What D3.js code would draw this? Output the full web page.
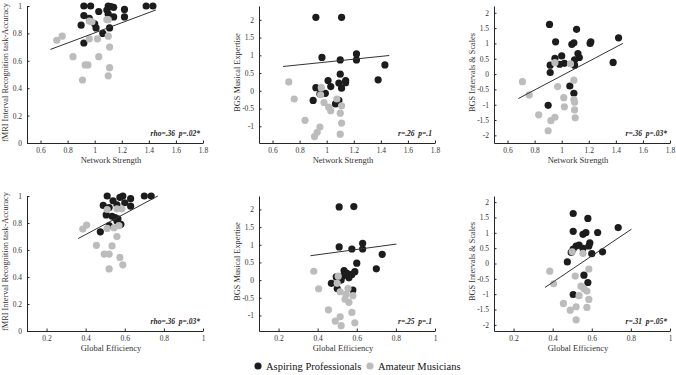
<!DOCTYPE html>
<html>
<head>
<meta charset="utf-8">
<script src="https://cdn.jsdelivr.net/npm/d3@7"></script>
<style>
  body { margin: 0; background: #fff; }
  svg, svg text { font-family: "Liberation Serif", "Times New Roman", Times, serif; }
</style>
</head>
<body>
<div id="chart"></div>
<script>
// ---- data: [x, y] per participant ----
// top row, x = network strength
var netAccPro = [[0.92,1.0],[0.97,1.0],[1.10,1.0],[1.12,0.995],[1.14,0.99],[1.38,1.0],[1.43,1.0],[0.92,0.93],[0.96,0.91],[1.03,0.96],[1.10,0.94],[1.14,0.92],[1.22,0.975],[1.22,0.92],[0.90,0.86],[1.00,0.87],[1.01,0.84],[1.11,0.84],[1.06,0.80],[0.92,0.73],[1.09,0.97]];
var netAccAma = [[0.72,0.75],[0.76,0.78],[0.96,0.89],[0.98,0.885],[1.09,0.90],[1.10,0.90],[0.96,0.76],[1.02,0.76],[1.10,0.78],[1.11,0.70],[0.84,0.63],[1.03,0.63],[0.93,0.57],[0.95,0.57],[1.11,0.55],[0.91,0.46],[1.10,0.49]];
var netAccFit = [[0.673,0.683],[1.452,0.971]];

var netExpPro = [[0.92,2.07],[1.11,2.07],[0.965,0.94],[1.10,0.87],[1.22,1.04],[1.22,0.87],[1.10,0.47],[1.01,0.29],[1.09,0.22],[1.14,0.29],[1.14,0.23],[1.38,0.31],[1.43,0.73],[1.03,0.12],[1.11,0.075],[0.92,0.09],[0.95,-0.09],[0.99,-0.07],[0.90,-0.27],[1.065,-0.37],[1.09,-0.27]];
var netExpAma = [[0.72,0.25],[0.76,-0.23],[0.96,0.09],[0.955,-0.11],[0.98,-0.33],[1.015,-0.46],[1.03,-0.56],[1.075,-0.23],[1.11,-0.42],[1.10,-0.63],[1.11,-0.91],[0.84,-0.83],[0.95,-1.02],[0.93,-1.17],[0.91,-1.29],[1.10,-1.22]];
var netExpFit = [[0.678,0.685],[1.462,0.995]];

var netIntPro = [[0.91,1.62],[1.11,1.46],[0.955,1.05],[1.075,0.97],[1.09,1.02],[1.21,1.0],[1.215,1.05],[1.42,1.18],[1.12,0.67],[1.13,0.54],[0.95,0.51],[1.00,0.59],[1.095,0.46],[1.02,0.35],[0.985,0.32],[0.915,0.29],[1.095,0.29],[1.38,0.38],[0.915,0.05],[1.06,-0.39],[1.09,-0.63],[0.90,-1.02]];
var netIntAma = [[0.71,-0.25],[0.76,-0.68],[0.95,0.37],[1.065,0.33],[0.97,-0.41],[1.09,-0.2],[1.015,-0.77],[1.02,-1.07],[1.09,-0.83],[1.095,-0.92],[1.095,-1.17],[1.10,-1.43],[0.83,-1.33],[0.95,-1.41],[0.92,-1.52],[0.90,-1.85]];
var netIntFit = [[0.68,-0.80],[1.452,1.0]];

// bottom row, x = global efficiency
var effAccPro = [[0.51,1.0],[0.54,0.965],[0.575,0.99],[0.59,1.0],[0.60,0.95],[0.63,0.98],[0.70,1.0],[0.735,1.0],[0.49,0.93],[0.52,0.915],[0.56,0.935],[0.63,0.925],[0.505,0.86],[0.535,0.85],[0.55,0.84],[0.565,0.83],[0.56,0.815],[0.58,0.79],[0.52,0.78],[0.475,0.735]];
var effAccAma = [[0.385,0.755],[0.405,0.785],[0.51,0.90],[0.56,0.905],[0.585,0.905],[0.51,0.76],[0.545,0.765],[0.57,0.78],[0.56,0.70],[0.455,0.635],[0.535,0.63],[0.495,0.57],[0.52,0.57],[0.575,0.545],[0.59,0.49],[0.52,0.46]];
var effAccFit = [[0.362,0.685],[0.769,1.0]];

var effExpPro = [[0.51,2.07],[0.585,2.08],[0.51,0.94],[0.575,0.88],[0.63,1.04],[0.63,0.88],[0.60,0.48],[0.73,0.73],[0.70,0.32],[0.535,0.27],[0.55,0.19],[0.59,0.24],[0.575,0.16],[0.53,0.12],[0.495,0.09],[0.56,0.065],[0.52,0.0],[0.47,-0.09],[0.50,-0.24],[0.58,-0.28]];
var effExpAma = [[0.38,0.25],[0.405,-0.245],[0.505,0.11],[0.50,-0.09],[0.515,-0.33],[0.555,-0.24],[0.545,-0.40],[0.58,-0.44],[0.54,-0.54],[0.56,-0.63],[0.455,-0.84],[0.575,-0.915],[0.515,-1.04],[0.49,-1.16],[0.59,-1.21],[0.52,-1.29]];
var effExpFit = [[0.363,0.69],[0.803,1.02]];

var effIntPro = [[0.505,1.63],[0.58,1.47],[0.505,1.05],[0.555,0.95],[0.57,1.01],[0.63,1.01],[0.735,1.17],[0.59,0.67],[0.585,0.57],[0.52,0.57],[0.535,0.60],[0.555,0.49],[0.505,0.47],[0.495,0.36],[0.60,0.32],[0.655,0.38],[0.475,0.05],[0.56,-0.38],[0.58,-0.62],[0.505,-1.01]];
var effIntAma = [[0.385,-0.25],[0.405,-0.66],[0.50,0.38],[0.555,0.33],[0.515,-0.41],[0.585,-0.18],[0.545,-0.74],[0.56,-0.82],[0.575,-0.90],[0.585,-1.17],[0.535,-1.05],[0.455,-1.30],[0.52,-1.41],[0.49,-1.52],[0.575,-1.43],[0.52,-1.84]];
var effIntFit = [[0.361,-0.78],[0.803,1.12]];

// axis ticks / labels
var netTicks = [0.6, 0.8, 1, 1.2, 1.4, 1.6, 1.8];
var effTicks = [0.2, 0.4, 0.6, 0.8, 1];
var accTicks = [0, 0.2, 0.4, 0.6, 0.8, 1];
var expTicks = [-1, -0.5, 0, 0.5, 1, 1.5, 2];
var intTicks = [-2, -1.5, -1, -0.5, 0, 0.5, 1, 1.5, 2];
var xLabels = ["Network Strength", "Global Efficiency"];
var yLabels = ["fMRI Interval Recognition task-Accuracy", "BGS Musical Expertise", "BGS Intervals & Scales"];
var stats = ["rho=.36  p=.02*", "r=.26  p=.1", "r=.36  p=.03*", "rho=.36  p=.03*", "r=.25  p=.1", "r=.31  p=.05*"];
var groups = ["Aspiring Professionals", "Amateur Musicians"];
var groupColors = ["#1c1c1c", "#bcbcbc"];

var serif = "Liberation Serif, Times New Roman, serif";
var W = 676, H = 375;
var svg = d3.select("#chart").append("svg")
    .attr("width", W)
    .attr("height", H)
    .attr("font-family", serif);

var colLeft = [27, 259, 494],
    panelW = 176;
var rows = [{top: 6, h: 137}, {top: 196, h: 135}];

var panels = [
  {row: 0, col: 0, xd: [0.5, 1.8], yd: [0, 1], xt: netTicks, yt: accTicks, pro: netAccPro, ama: netAccAma, fit: netAccFit},
  {row: 0, col: 1, xd: [0.5, 1.8], yd: [-1.47, 2.39], xt: netTicks, yt: expTicks, pro: netExpPro, ama: netExpAma, fit: netExpFit},
  {row: 0, col: 2, xd: [0.5, 1.8], yd: [-2.25, 2.22], xt: netTicks, yt: intTicks, pro: netIntPro, ama: netIntAma, fit: netIntFit},
  {row: 1, col: 0, xd: [0.1, 1], yd: [0, 1], xt: effTicks, yt: accTicks, pro: effAccPro, ama: effAccAma, fit: effAccFit},
  {row: 1, col: 1, xd: [0.1, 1], yd: [-1.44, 2.38], xt: effTicks, yt: expTicks, pro: effExpPro, ama: effExpAma, fit: effExpFit},
  {row: 1, col: 2, xd: [0.1, 1], yd: [-2.2, 2.2], xt: effTicks, yt: intTicks, pro: effIntPro, ama: effIntAma, fit: effIntFit}
];

var fmt = function(d) { return d3.format("~g")(d).replace("\u2212", "-"); };

panels.forEach(function(p, i) {
  var r = rows[p.row];
  var g = svg.append("g")
      .attr("transform", "translate(" + colLeft[p.col] + "," + r.top + ")");

  var x = d3.scaleLinear().domain(p.xd).range([0, panelW]);
  var y = d3.scaleLinear().domain(p.yd).range([r.h, 0]);

  var xAxis = d3.axisBottom(x).tickValues(p.xt).tickSizeInner(-2.5).tickSizeOuter(0)
      .tickPadding(5).tickFormat(fmt);
  var yAxis = d3.axisLeft(y).tickValues(p.yt).tickSizeInner(-2.5).tickSizeOuter(0)
      .tickPadding(5).tickFormat(fmt);

  var gx = g.append("g")
      .attr("transform", "translate(0," + r.h + ")")
      .call(xAxis);
  var gy = g.append("g").call(yAxis);

  [gx, gy].forEach(function(a) {
    a.attr("font-family", serif).attr("font-size", 7.5);
    a.selectAll("path.domain").attr("stroke", "#262626").attr("stroke-width", 1);
    a.selectAll(".tick line").attr("stroke", "#262626");
    a.selectAll(".tick text").attr("fill", "#333");
  });

  // points: professionals first, amateurs on top
  g.selectAll("circle.pro").data(p.pro).enter().append("circle")
      .attr("class", "pro")
      .attr("cx", function(d) { return x(d[0]); })
      .attr("cy", function(d) { return y(d[1]); })
      .attr("r", 3.6)
      .attr("fill", groupColors[0]);
  g.selectAll("circle.ama").data(p.ama).enter().append("circle")
      .attr("class", "ama")
      .attr("cx", function(d) { return x(d[0]); })
      .attr("cy", function(d) { return y(d[1]); })
      .attr("r", 3.6)
      .attr("fill", groupColors[1]);

  // regression line
  g.append("path")
      .datum(p.fit)
      .attr("fill", "none")
      .attr("stroke", "#333")
      .attr("stroke-width", 1)
      .attr("d", d3.line().x(function(d) { return x(d[0]); }).y(function(d) { return y(d[1]); }));

  // stats annotation
  g.append("text")
      .attr("x", panelW - 3)
      .attr("y", r.h - 7)
      .attr("text-anchor", "end")
      .attr("font-size", 7.5)
      .attr("font-weight", "bold")
      .attr("font-style", "italic")
      .style("white-space", "pre")
      .attr("fill", "#222")
      .text(stats[i]);

  // axis labels
  g.append("text")
      .attr("x", panelW / 2 - 4)
      .attr("y", r.h + 20)
      .attr("text-anchor", "middle")
      .attr("font-size", 8.5)
      .attr("fill", "#333")
      .text(xLabels[p.row]);
  g.append("text")
      .attr("transform", "translate(-19," + (r.h / 2 - 2) + ") rotate(-90)")
      .attr("text-anchor", "middle")
      .attr("font-size", 8.3)
      .attr("fill", "#333")
      .text(yLabels[p.col]);
});

// legend
var legend = svg.append("g").attr("transform", "translate(258,366)");
var lx = [0, 112];
groups.forEach(function(name, i) {
  legend.append("circle")
      .attr("cx", lx[i])
      .attr("cy", 0)
      .attr("r", 3.6)
      .attr("fill", groupColors[i]);
  legend.append("text")
      .attr("x", lx[i] + 8)
      .attr("y", 3.6)
      .attr("font-size", 10.5)
      .attr("fill", "#111")
      .text(name);
});
</script>
</body>
</html>
